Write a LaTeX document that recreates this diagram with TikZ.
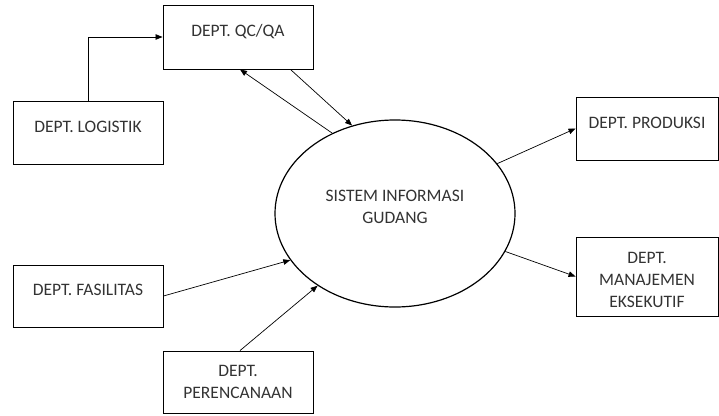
\documentclass[tikz,border=0pt]{standalone}
\usepackage{fontspec}
\setmainfont{Carlito}
\usetikzlibrary{arrows.meta, shapes.geometric}
\begin{document}
\begin{tikzpicture}[x=1pt, y=-1pt,
    dept/.style={draw, line width=0.9pt, minimum width=150pt, align=center, text=black!80,
                 font=\fontsize{17.5}{22}\selectfont},
    deptone/.style={dept, text height=12pt, text depth=13pt},
    flow/.style={-{Triangle[length=7pt,width=5.5pt]}, line width=0.7pt}]
                \useasboundingbox (0,0) rectangle (719,415);
                \node[deptone, minimum height=64pt] (qc) at (238,37) {DEPT. QC/QA};
                \node[deptone, minimum height=63pt] (logistik) at (88,132.5) {DEPT. LOGISTIK};
                \node[deptone, minimum height=62pt] (fasilitas) at (88,296) {DEPT. FASILITAS};
                \node[dept, minimum height=62pt] (perencanaan) at (238,382) {DEPT.\\PERENCANAAN};
                \node[deptone, minimum width=142pt, minimum height=63pt] (produksi) at (647,128.5) {DEPT. PRODUKSI};
                \node[dept, minimum width=142pt, minimum height=79pt, text height=63pt] (manajemen) at (647,276.5) {DEPT.\\MANAJEMEN\\EKSEKUTIF};
                \node[dept, ellipse, line width=1.2pt, minimum width=240pt, minimum height=187pt,
                      text height=19pt, text depth=0pt] (sig) at (395,213.5) {SISTEM INFORMASI\\GUDANG};

                \draw[flow] (logistik.north) |- (qc);
                \draw[flow] (sig.128) -- ([xshift=2pt]qc.south);
                \draw[flow] ([xshift=-23pt]qc.south east) -- (sig.116);
                \draw[flow] (sig.26) -- (produksi.west);
                \draw[flow] (sig.-19) -- (manajemen.west);
                \draw[flow] (fasilitas.east) -- (sig.204);
                \draw[flow] ([xshift=2pt]perencanaan.north) -- (sig.223);
                \end{tikzpicture}
\end{document}
